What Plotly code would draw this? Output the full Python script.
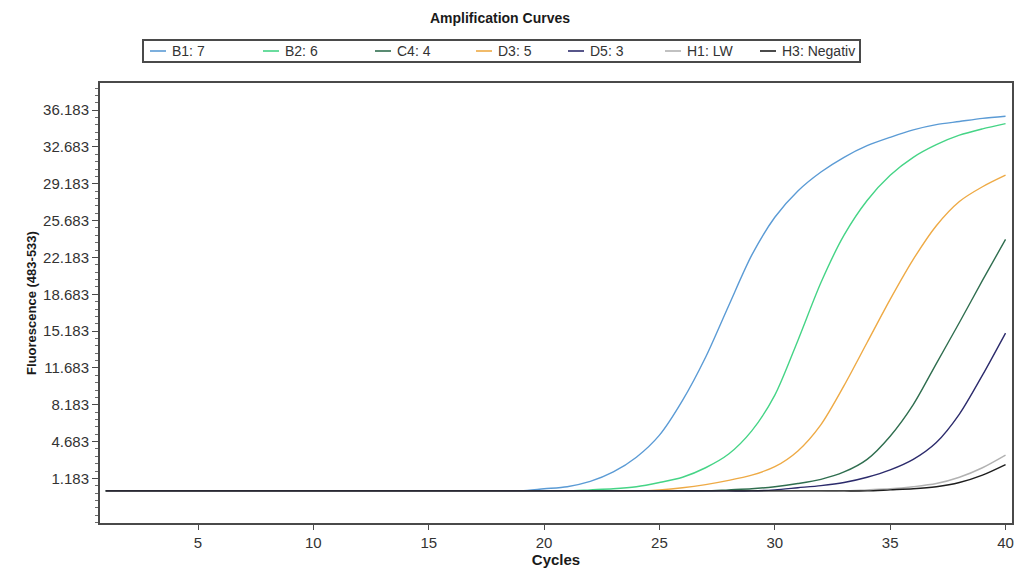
import plotly.graph_objects as go

# qPCR amplification data: fluorescence (483-533) per cycle, cycles 1..40
cycles = list(range(1, 41))

b1_7 = [0.0, 0.0, 0.0, 0.0, 0.0, 0.0, 0.0, 0.0, 0.0, 0.0,
        0.0, 0.0, 0.0, 0.0, 0.0, 0.0, 0.0, 0.0, 0.0, 0.2,
        0.4, 0.9, 1.8, 3.2, 5.3, 8.6, 12.7, 17.6, 22.4, 26.0,
        28.5, 30.3, 31.7, 32.8, 33.6, 34.3, 34.8, 35.1, 35.4, 35.6]
b2_6 = [0.0, 0.0, 0.0, 0.0, 0.0, 0.0, 0.0, 0.0, 0.0, 0.0,
        0.0, 0.0, 0.0, 0.0, 0.0, 0.0, 0.0, 0.0, 0.0, 0.0,
        0.0, 0.1, 0.2, 0.4, 0.8, 1.3, 2.2, 3.5, 5.7, 9.1,
        14.3, 19.8, 24.3, 27.6, 30.0, 31.7, 32.9, 33.8, 34.4, 34.9]
c4_4 = [0.0, 0.0, 0.0, 0.0, 0.0, 0.0, 0.0, 0.0, 0.0, 0.0,
        0.0, 0.0, 0.0, 0.0, 0.0, 0.0, 0.0, 0.0, 0.0, 0.0,
        0.0, 0.0, 0.0, 0.0, 0.0, 0.0, 0.0, 0.1, 0.2, 0.4,
        0.7, 1.1, 1.8, 3.0, 5.2, 8.2, 12.1, 16.0, 20.0, 23.9]
d3_5 = [0.0, 0.0, 0.0, 0.0, 0.0, 0.0, 0.0, 0.0, 0.0, 0.0,
        0.0, 0.0, 0.0, 0.0, 0.0, 0.0, 0.0, 0.0, 0.0, 0.0,
        0.0, 0.0, 0.0, 0.0, 0.1, 0.3, 0.6, 1.0, 1.5, 2.3,
        3.8, 6.3, 10.0, 14.1, 18.2, 22.0, 25.2, 27.5, 28.9, 30.0]
d5_3 = [0.0, 0.0, 0.0, 0.0, 0.0, 0.0, 0.0, 0.0, 0.0, 0.0,
        0.0, 0.0, 0.0, 0.0, 0.0, 0.0, 0.0, 0.0, 0.0, 0.0,
        0.0, 0.0, 0.0, 0.0, 0.0, 0.0, 0.0, 0.0, 0.0, 0.1,
        0.3, 0.5, 0.8, 1.3, 2.0, 3.0, 4.6, 7.3, 11.0, 15.0]
h1_lw = [0.0, 0.0, 0.0, 0.0, 0.0, 0.0, 0.0, 0.0, 0.0, 0.0,
         0.0, 0.0, 0.0, 0.0, 0.0, 0.0, 0.0, 0.0, 0.0, 0.0,
         0.0, 0.0, 0.0, 0.0, 0.0, 0.0, 0.0, 0.0, 0.0, 0.0,
         0.0, 0.0, 0.0, 0.1, 0.2, 0.4, 0.7, 1.3, 2.2, 3.4]
h3_neg = [0.0, 0.0, 0.0, 0.0, 0.0, 0.0, 0.0, 0.0, 0.0, 0.0,
          0.0, 0.0, 0.0, 0.0, 0.0, 0.0, 0.0, 0.0, 0.0, 0.0,
          0.0, 0.0, 0.0, 0.0, 0.0, 0.0, 0.0, 0.0, 0.0, 0.0,
          0.0, 0.0, 0.0, 0.0, 0.1, 0.2, 0.4, 0.8, 1.5, 2.5]

sample_names = ["B1: 7", "B2: 6", "C4: 4", "D3: 5", "D5: 3", "H1: LW", "H3: Negativ"]
sample_values = [b1_7, b2_6, c4_4, d3_5, d5_3, h1_lw, h3_neg]
sample_colors = ["#5b9bd5", "#45d486", "#2f6e4f", "#eeaa45", "#2c2b6c", "#b2b2b2", "#1e1e1e"]

y_tick_vals = [1.183, 4.683, 8.183, 11.683, 15.183, 18.683, 22.183, 25.683, 29.183, 32.683, 36.183]
y_tick_text = ["1.183", "4.683", "8.183", "11.683", "15.183", "18.683",
               "22.183", "25.683", "29.183", "32.683", "36.183"]
x_tick_vals = [5, 10, 15, 20, 25, 30, 35, 40]

# Legend entry left edges (px) inside the framed legend box
legend_x_px = [150, 263, 375, 476, 568, 665, 760]

W, H = 1015, 570
ML, MR, MT, MB = 100, 3, 83, 47
PW, PH = W - ML - MR, H - MT - MB


def px_x(px):
    return (px - ML) / PW


def px_y(py):
    return (H - MB - py) / PH


fig = go.Figure()

draw_order = [0, 1, 2, 3, 5, 4, 6]
for i in draw_order:
    fig.add_trace(go.Scatter(
        x=cycles, y=sample_values[i], mode="lines", name=sample_names[i],
        line=dict(color=sample_colors[i], width=1.4, shape="spline", smoothing=0.8),
        showlegend=False,
    ))

base_font = "Arial, Liberation Sans, sans-serif"
narrow_font = "Liberation Sans Narrow, Arial Narrow, Arial, sans-serif"

# Framed legend row above the plot
shapes = [dict(type="rect", xref="paper", yref="paper",
               x0=px_x(143), x1=px_x(860), y0=px_y(62), y1=px_y(40),
               line=dict(color="#4a4a4a", width=2), fillcolor="white", layer="above")]
annotations = []
for name, color, lx in zip(sample_names, sample_colors, legend_x_px):
    shapes.append(dict(type="line", xref="paper", yref="paper",
                       x0=px_x(lx), x1=px_x(lx + 16), y0=px_y(51), y1=px_y(51),
                       line=dict(color=color, width=1.6)))
    annotations.append(dict(text=name, xref="paper", yref="paper",
                            x=px_x(lx + 20), y=px_y(51), xanchor="left", yanchor="middle",
                            showarrow=False, font=dict(family=base_font, size=14, color="#333333")))

fig.update_layout(
    width=W, height=H,
    margin=dict(l=ML, r=MR, t=MT, b=MB, autoexpand=False),
    paper_bgcolor="white", plot_bgcolor="white",
    showlegend=False,
    title=dict(text="<b>Amplification Curves</b>", x=500 / W, xanchor="center",
               y=1 - 18 / H, yanchor="middle",
               font=dict(family=base_font, size=14, color="#1a1a1a")),
    shapes=shapes, annotations=annotations,
)

fig.update_xaxes(
    range=[0.752, 40.28], tickvals=x_tick_vals, ticks="outside", ticklen=5,
    tickcolor="#4a4a4a", tickwidth=1, showgrid=False, zeroline=False,
    showline=True, mirror=True, linecolor="#4a4a4a", linewidth=2,
    tickfont=dict(family=narrow_font, size=15, color="#333333"),
    title=dict(text="<b>Cycles</b>", standoff=0,
               font=dict(family=narrow_font, size=15, color="#1a1a1a")),
)
fig.update_yaxes(
    range=[-3.05, 38.76], tickvals=y_tick_vals, ticktext=y_tick_text,
    ticks="outside", ticklen=6, tickcolor="#4a4a4a", tickwidth=1,
    minor=dict(ticks="outside", ticklen=3, tick0=1.183, dtick=0.7, tickcolor="#6a6a6a"),
    showgrid=False, zeroline=False,
    showline=True, mirror=True, linecolor="#4a4a4a", linewidth=2,
    tickfont=dict(family=base_font, size=15, color="#333333"),
    title=dict(text="<b>Fluorescence (483-533)</b>", standoff=4,
               font=dict(family=base_font, size=13, color="#1a1a1a")),
)

fig.write_html("out.html")
